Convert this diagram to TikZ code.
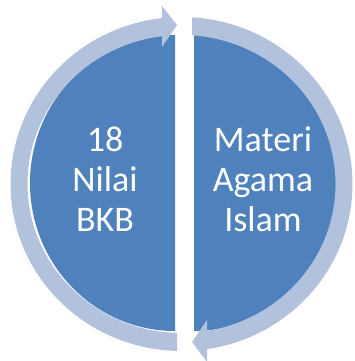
\documentclass[tikz,border=0pt]{standalone}
\usepackage{fontspec}
\newfontfamily\labelfont{Carlito}
\usepackage{tikz}
\definecolor{piefill}{RGB}{79,129,189}
\definecolor{ringfill}{RGB}{178,193,220}
\tikzstyle{half}=[fill=piefill]
\tikzstyle{ring}=[fill=ringfill]
\tikzstyle{label}=[text=white,
                   align=center,
                   anchor=base,
                   font=\labelfont\fontsize{36}{40}\selectfont]

\begin{document}
\begin{tikzpicture}[x=1pt,y=1pt]
    \useasboundingbox (0,0) rectangle (354,361);
    % the two halves of the pie
    \fill[half] (175,326) arc[start angle=90, end angle=270, x radius=145, y radius=148] -- cycle;
    \fill[half] (194,326) arc[start angle=90, end angle=-90, x radius=145, y radius=148] -- cycle;
    % circular arrows round the pie
    \begin{scope}[shift={(181.5,177)}]
    \fill[ring] (268.49:171 and 167) arc[start angle=268.49, end angle=96.55, x radius=171, y radius=167]
       -- (-19.5,178) -- (-4.5,159) -- (-19.5,137)
       -- (97.27:154 and 149) arc[start angle=97.27, end angle=268.33, x radius=154, y radius=149] -- cycle;
    \fill[ring] (86.48:171 and 167) arc[start angle=86.48, end angle=-81.42, x radius=171, y radius=167]
       -- (25.5,-178) -- (10.5,-158) -- (25.5,-136)
       -- (-80.47:154 and 149) arc[start angle=-80.47, end angle=86.09, x radius=154, y radius=149] -- cycle;
    \end{scope}
    \node[label] (nilai) at (105,129) {18\\Nilai\\BKB};
    \node[label] (materi) at (263,129) {Materi\\Agama\\Islam};
\end{tikzpicture}
\end{document}
